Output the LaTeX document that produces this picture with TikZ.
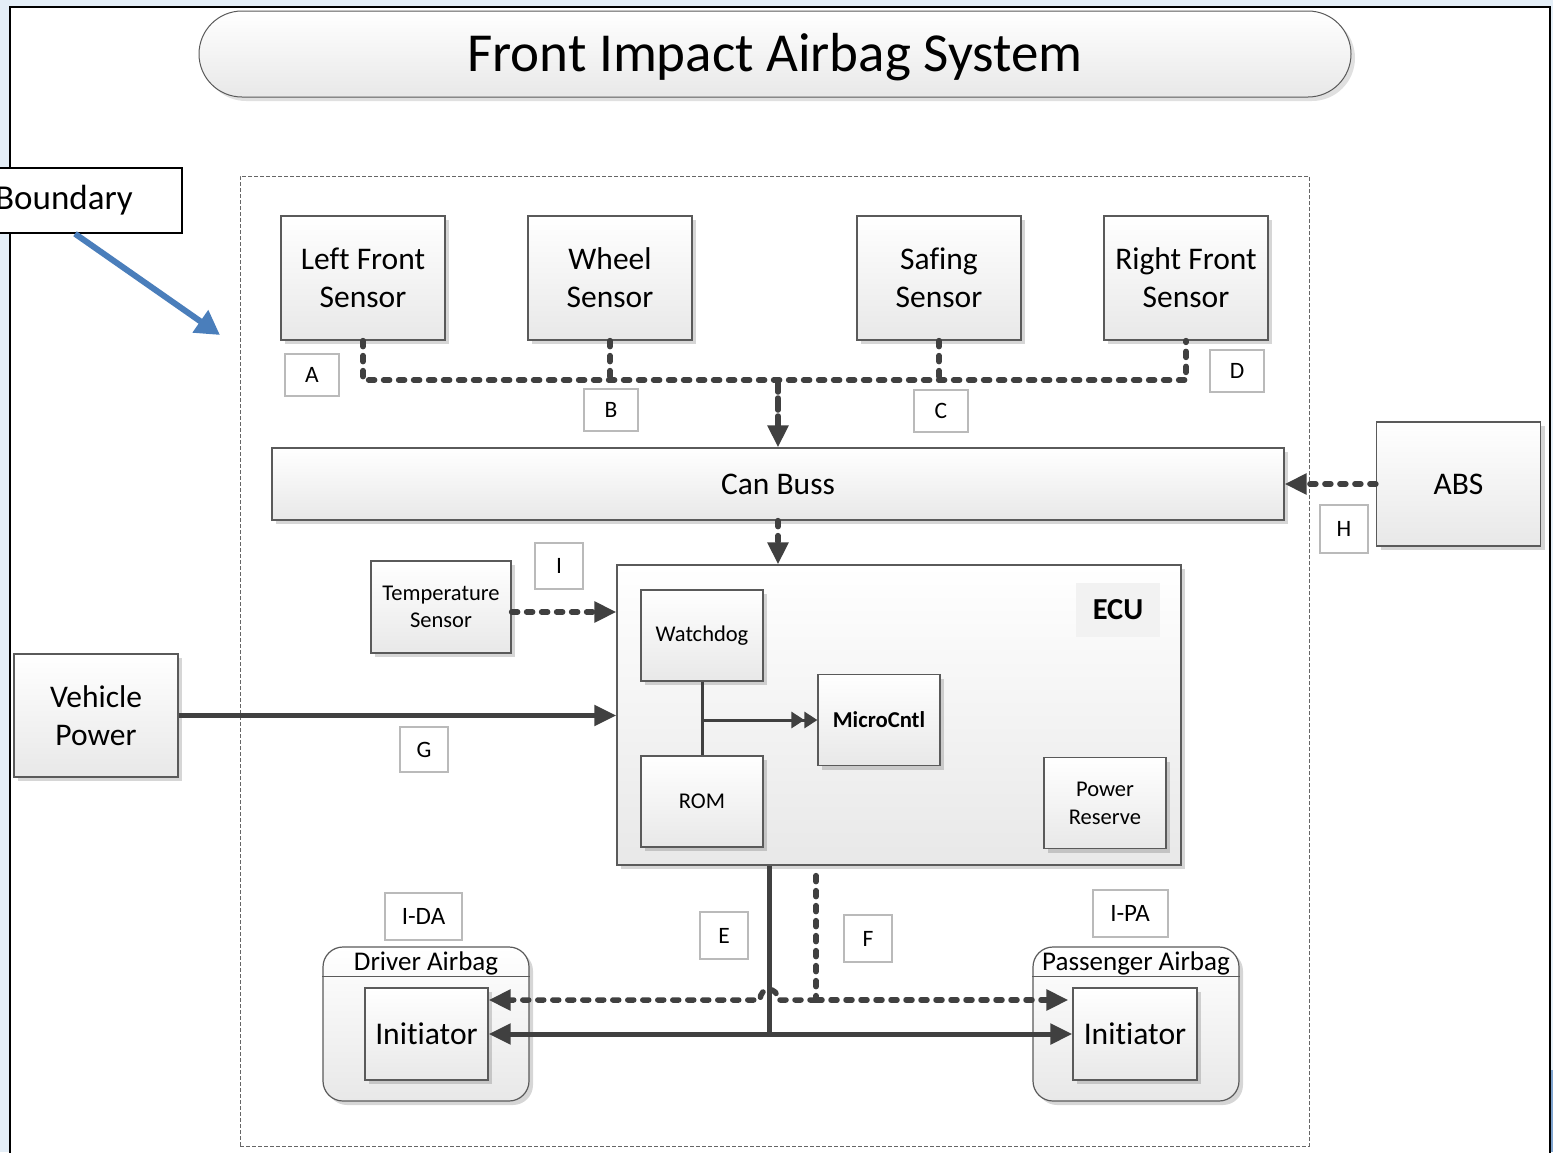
\documentclass[tikz,border=0pt]{standalone}
\usepackage{fontspec}
\setmainfont{Carlito}[Ligatures=NoCommon]
\usetikzlibrary{arrows.meta,shadows,calc}

\definecolor{wire}{HTML}{404040}
\definecolor{edge}{HTML}{5A5A5A}
\definecolor{slide}{HTML}{E4EEF7}
\definecolor{pointer}{HTML}{4A7EBB}

\newcommand{\fsz}[2]{\fontsize{#1pt}{#2pt}\selectfont}

\tikzset{
  block/.style={draw=edge, line width=1.2pt, top color=white, bottom color=black!9,
    drop shadow={shadow xshift=4pt, shadow yshift=-4pt, fill=black, opacity=0.16},
    align=center, inner sep=0pt},
  sensorbox/.style={block, minimum width=164pt, minimum height=124pt, font=\fsz{31.5}{38}},
  innerbox/.style={block, minimum width=122pt, minimum height=91pt, font=\fsz{22.5}{28}},
  tag/.style={draw=black!27, line width=2pt, fill=white, inner sep=0pt,
    minimum width=54pt, minimum height=42pt, font=\fsz{23.5}{26}},
  holder/.style={block, rounded corners=20pt, minimum width=206pt, minimum height=154pt},
  dashwire/.style={draw=wire, line width=5.5pt, line cap=round, dash pattern=on 6pt off 9pt},
  solidwire/.style={draw=wire, line width=5pt},
  headtip/.style={-{Triangle[length=22pt,width=20pt]}},
}

\begin{document}
\begin{tikzpicture}[x=1pt, y=-1pt]
\useasboundingbox (0,0) rectangle (1553,1152);

% page background and frame
\fill[slide] (0,0) rectangle (1553,1152);
\fill[pointer!70] (1551,1070) rectangle (1553,1152);
\draw[fill=white, line width=2.5pt] (10,7) rectangle (1550,1175);

% title banner
\node[draw=black!65, line width=1pt, rounded corners=43pt, top color=white, bottom color=black!9,
  drop shadow={shadow xshift=4pt, shadow yshift=-4pt, fill=black, opacity=0.12},
  minimum width=1152pt, minimum height=86pt] (title) at (775,54) {};
\node[font=\fsz{55}{60}, inner sep=0pt] (titletext) at (775,57) {Front Impact Airbag System};

% system boundary
\node[draw=black!60, line width=0.8pt, dash pattern=on 4pt off 2pt,
  minimum width=1069pt, minimum height=970pt, inner sep=0pt] (zone) at (774.5,661) {};

\node[draw, line width=1.5pt, fill=white, minimum width=236pt, minimum height=65pt,
  inner sep=0pt, font=\fsz{35}{40}] (bnd) at (64,200.5) {Boundary};
\coordinate (aim) at (220,335);
\draw[pointer, line width=6pt, -{Triangle[length=24pt,width=26pt]}] ([xshift=11pt]bnd.south) -- (aim);

% sensors
\node[sensorbox] (lf) at (363,278) {Left Front\\Sensor};
\node[sensorbox] (ws) at (610,278) {Wheel\\Sensor};
\node[sensorbox] (ss) at (939,278) {Safing\\Sensor};
\node[sensorbox] (rf) at (1186,278) {Right Front\\Sensor};

% CAN bus and ABS
\node[block, minimum width=1012pt, minimum height=72pt, font=\fsz{31.5}{38}] (can) at (778,484) {Can Buss};
\node[sensorbox] (abs) at (1458.5,484) {ABS};

% temperature sensor and vehicle power
\node[block, minimum width=140pt, minimum height=92pt, font=\fsz{22.5}{27}] (temp) at (441,607) {Temperature\\Sensor};
\node[sensorbox, minimum height=123pt] (vp) at (96,715.5) {Vehicle\\Power};

% ECU and its parts
\node[block, minimum width=564pt, minimum height=300pt] (ecu) at (899,715) {};
\node[fill=black!5, minimum width=84pt, minimum height=54pt, inner sep=0pt,
  font=\fsz{30.5}{36}\bfseries] (ecul) at (1118,610) {ECU};
\node[innerbox] (wd) at (702,635.5) {Watchdog};
\node[innerbox] (rom) at (702,801.5) {ROM};
\node[innerbox, font=\fsz{22.7}{28}\bfseries] (mc) at (879,720) {MicroCntl};
\node[innerbox, font=\fsz{22.5}{28}] (pr) at (1105,803) {Power\\Reserve};

% airbags
\node[holder] (dab) at (426,1024) {};
\draw[draw=edge, line width=1.2pt] ([yshift=-30pt]dab.north west) -- ([yshift=-30pt]dab.north east);
\node[font=\fsz{27}{30}, inner sep=0pt] (dabt) at ([yshift=-17pt]dab.north) {Driver Airbag};
\node[block, minimum width=123pt, minimum height=92pt, font=\fsz{31.6}{36}] (dinit) at (426.5,1034) {Initiator};

\node[holder] (pab) at (1136,1024) {};
\draw[draw=edge, line width=1.2pt] ([yshift=-30pt]pab.north west) -- ([yshift=-30pt]pab.north east);
\node[font=\fsz{27}{30}, inner sep=0pt] (pabt) at ([yshift=-17pt]pab.north) {Passenger Airbag};
\node[block, minimum width=124pt, minimum height=92pt, font=\fsz{31.6}{36}] (pinit) at (1135,1034) {Initiator};

% interface tags
\node[tag] (ta) at (312,375) {A};
\node[tag] (tb) at (611,409.5) {B};
\node[tag] (tc) at (941,410.5) {C};
\node[tag] (td) at (1237,371) {D};
\node[tag, minimum width=48pt, minimum height=48pt] (th) at (1344,529) {H};
\node[tag, minimum width=48pt, minimum height=46pt] (ti) at (559,566) {I};
\node[tag, minimum width=48pt, minimum height=45pt] (tg) at (424,749.5) {G};
\node[tag, minimum width=48pt, minimum height=47pt] (te) at (724,935.5) {E};
\node[tag, minimum width=48pt, minimum height=47pt] (tf) at (868,938.5) {F};
\node[tag, minimum width=77pt, minimum height=47pt, font=\fsz{25}{28}] (tida) at (423.5,916.5) {I-DA};
\node[tag, minimum width=75pt, minimum height=47pt, font=\fsz{25}{28}] (tipa) at (1130,913.5) {I-PA};

% sensor bus
\coordinate (busy) at (0,380);
\draw[dashwire] (lf.south) -- (lf.south |- busy) -- (rf.south |- busy) -- (rf.south);
\draw[dashwire] (ws.south) -- (ws.south |- busy);
\draw[dashwire] (ss.south) -- (ss.south |- busy);
\draw[dashwire, dash pattern=on 12pt off 6pt, headtip] (can.north |- busy) -- (can.north);

% links to the CAN bus and the ECU
\draw[dashwire, headtip] (abs.west) -- (can.east);
\draw[dashwire, headtip] (can.south) -- (can.south |- ecu.north);
\draw[dashwire, headtip] ([yshift=-5pt]temp.east) -- ([yshift=-5pt]temp.east -| ecu.west);
\draw[solidwire, headtip] (vp.east) -- (vp.east -| ecu.west);

% inside the ECU
\draw[draw=wire, line width=3pt] (wd.south) -- (rom.north);
\draw[draw=wire, line width=3pt, -{Triangle[length=13pt,width=16pt]Triangle[length=13pt,width=16pt]}]
  (wd.south |- mc.west) -- (mc.west);

% firing lines to the initiators
\coordinate (ejoin) at (769,1034);
\coordinate (fjoin) at (816,1000);
\draw[solidwire] (ecu.south -| ejoin) -- (ejoin);
\draw[solidwire, headtip] (ejoin) -- (dinit.east);
\draw[solidwire, headtip] (ejoin) -- (pinit.west);
\draw[dashwire] ([yshift=-10pt]ecu.south -| fjoin) -- (fjoin);
\draw[dashwire, headtip] (fjoin) -- (778,1000) .. controls (778,986) and (760,986) .. (760,1000) -- (dinit.east |- fjoin);
\draw[dashwire, headtip, shorten >=4pt] (fjoin) -- (pinit.west |- fjoin);

\end{tikzpicture}
\end{document}
